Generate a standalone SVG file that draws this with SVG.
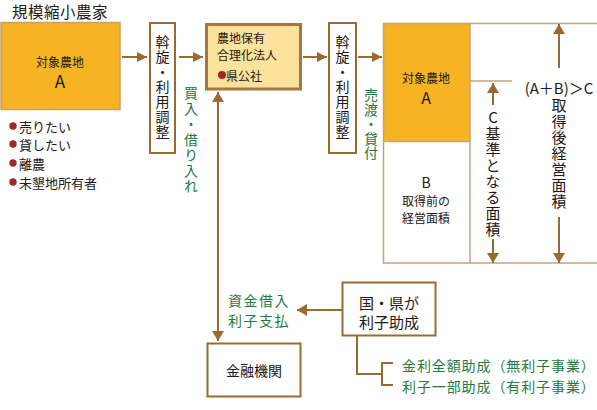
<svg xmlns="http://www.w3.org/2000/svg" width="597" height="410" viewBox="0 0 597 410">
<style>
text{font-family:"Noto Sans CJK JP","Noto Sans",sans-serif;fill:#231815}
.c{text-anchor:middle;dominant-baseline:central}
.v{writing-mode:vertical-rl;text-orientation:upright}
.g{fill:#1F7A43}
.box{fill:#fff;stroke:#9A6A33;stroke-width:2}
.ln{stroke:#9A6A33;stroke-width:2;fill:none}
.thin{stroke:#C4A27A;stroke-width:1.5;fill:none}
</style>
<defs>
<marker id="ah" viewBox="0 0 10 10" refX="10" refY="5" markerWidth="10" markerHeight="10" markerUnits="userSpaceOnUse" orient="auto">
<path d="M0,0 L10,5 L0,10 z" fill="#9A6A33"/>
</marker>
<marker id="ah2" viewBox="0 0 10 12" refX="10" refY="6" markerWidth="10" markerHeight="12" markerUnits="userSpaceOnUse" orient="auto">
<path d="M0,0 L10,6 L0,12 z" fill="#9A6A33"/>
</marker>
</defs>

<text x="12" y="18" font-size="15.5" letter-spacing="0.5">規模縮小農家</text>

<g id="nodeA">
<rect x="1" y="22.5" width="119" height="87" fill="#F6B324" stroke="#C8A070" stroke-width="1.5"/>
<text class="c" x="60" y="61" font-size="12">対象農地</text>
<text class="c" x="60" y="80" font-size="17">A</text>
</g>

<g id="list">
<circle cx="13" cy="126" r="3.7" fill="#A0282D"/><text x="19" y="126" font-size="13" dominant-baseline="central">売りたい</text>
<circle cx="13" cy="144" r="3.7" fill="#A0282D"/><text x="19" y="144" font-size="13" dominant-baseline="central">貸したい</text>
<circle cx="13" cy="163" r="3.7" fill="#A0282D"/><text x="19" y="163" font-size="13" dominant-baseline="central">離農</text>
<circle cx="13" cy="182" r="3.7" fill="#A0282D"/><text x="19" y="182" font-size="13" dominant-baseline="central">未墾地所有者</text>
</g>

<g id="assen1">
<rect class="box" x="150" y="23" width="25" height="130"/>
<text class="v" x="162.5" y="35" font-size="14" letter-spacing="1">斡旋・利用調整</text>
</g>

<g id="kosha">
<rect x="206.5" y="24.5" width="94" height="64.5" fill="#FDE29B" stroke="#A37843" stroke-width="3"/>
<text x="217" y="37" font-size="12" dominant-baseline="central">農地保有</text>
<text x="217" y="54" font-size="12" dominant-baseline="central">合理化法人</text>
<circle cx="222" cy="75" r="4" fill="#A0282D"/>
<text x="226" y="75" font-size="12" dominant-baseline="central">県公社</text>
</g>

<g id="assen2">
<rect class="box" x="329" y="23" width="27" height="130"/>
<text class="v" x="342.5" y="35" font-size="14" letter-spacing="1">斡旋・利用調整</text>
</g>

<g id="area">
<rect x="383" y="23" width="87" height="118" fill="#F6B324"/>
<rect class="thin" x="383.5" y="23.5" width="220" height="239.5"/>
<line class="thin" x1="470" y1="23" x2="470" y2="263"/>
<line class="thin" x1="470" y1="81" x2="512" y2="81"/>
<line class="thin" x1="383" y1="141.5" x2="470" y2="141.5"/>
<text class="c" x="426" y="77" font-size="12">対象農地</text>
<text class="c" x="426" y="97" font-size="16">A</text>
<text class="c" x="426" y="182" font-size="14">B</text>
<text class="c" x="426" y="200" font-size="12">取得前の</text>
<text class="c" x="426" y="217" font-size="12">経営面積</text>
<text class="v" x="493" y="110" font-size="15" letter-spacing="1">C基準となる面積</text>
<text class="c" x="559" y="87" font-size="15">(A＋B)＞C</text>
<text class="v" x="559" y="97.5" font-size="15" letter-spacing="1">取得後経営面積</text>
</g>

<g id="kinyu">
<rect class="box" x="207.5" y="343.5" width="93" height="53"/>
<text class="c" x="254" y="370" font-size="14">金融機関</text>
</g>

<g id="kuni">
<rect class="box" x="342.5" y="282.5" width="93" height="53"/>
<text class="c" x="389" y="302" font-size="15">国・県が</text>
<text class="c" x="389" y="321" font-size="15">利子助成</text>
</g>

<g id="labels">
<text class="v g" x="191" y="86" font-size="14" letter-spacing="1.5">買入・借り入れ</text>
<text class="v g" x="371" y="88" font-size="14" letter-spacing="0.5">売渡・貸付</text>
<text class="c g" x="259" y="300" font-size="14" letter-spacing="1.5">資金借入</text>
<text class="c g" x="259" y="320" font-size="14" letter-spacing="1.5">利子支払</text>
<text class="g" x="402" y="365" font-size="14" letter-spacing="0.9" dominant-baseline="central">金利全額助成（無利子事業）</text>
<text class="g" x="402" y="386" font-size="14" letter-spacing="0.9" dominant-baseline="central">利子一部助成（有利子事業）</text>
</g>

<g id="connectors">
<line class="ln" x1="122" y1="57" x2="147" y2="57" marker-end="url(#ah)"/>
<line class="ln" x1="179" y1="57" x2="203" y2="57" marker-end="url(#ah)"/>
<line class="ln" x1="303" y1="57" x2="327" y2="57" marker-end="url(#ah)"/>
<line class="ln" x1="358" y1="57" x2="382" y2="57" marker-end="url(#ah)"/>
<line class="ln" x1="218" y1="330" x2="218" y2="92" marker-end="url(#ah2)"/>
<line class="ln" x1="218" y1="100" x2="218" y2="341" marker-end="url(#ah2)"/>
<line class="ln" x1="342" y1="310" x2="297" y2="310" marker-end="url(#ah2)"/>
<path class="ln" d="M357 336 V374 H382 M393 363 H382 V385 H393"/>
<line class="ln" x1="493" y1="105" x2="493" y2="83" marker-end="url(#ah2)"/>
<line class="ln" x1="493" y1="239" x2="493" y2="263" marker-end="url(#ah2)"/>
<line class="ln" x1="559" y1="68" x2="559" y2="24" marker-end="url(#ah2)"/>
<line class="ln" x1="559" y1="217" x2="559" y2="263" marker-end="url(#ah2)"/>
</g>
</svg>
